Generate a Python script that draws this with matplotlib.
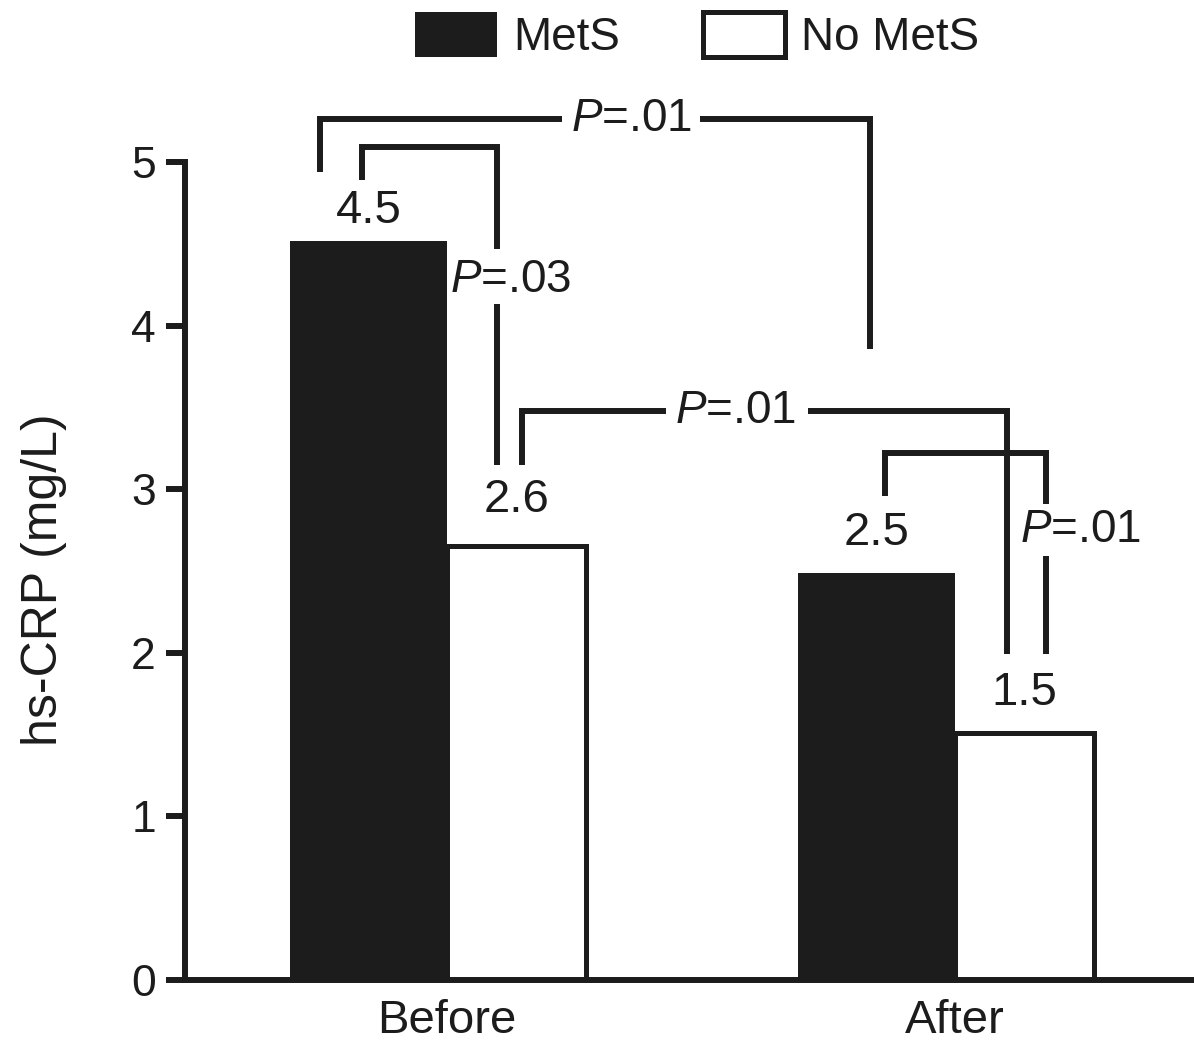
import matplotlib
matplotlib.use("Agg")
import matplotlib.pyplot as plt
import numpy as np

plt.rcParams['font.family'] = ['Liberation Sans', 'DejaVu Sans']
plt.rcParams['mathtext.fontset'] = 'custom'
plt.rcParams['mathtext.it'] = 'Liberation Sans:italic'
plt.rcParams['mathtext.rm'] = 'Liberation Sans'

# ---- data ----
groups = ["Before", "After"]
series_names = ["MetS", "No MetS"]
mets = [4.52, 2.49]
no_mets = [2.65, 1.51]
mets_labels = ["4.5", "2.5"]
no_mets_labels = ["2.6", "1.5"]
y_ticks = [0, 1, 2, 3, 4, 5]
p_texts = ["$P$=.01", "$P$=.03", "$P$=.01", "$P$=.01"]

INK = '#1b1c1b'
W, H = 1194, 1058
fig = plt.figure(figsize=(W / 100, H / 100), dpi=100)
ax = fig.add_axes([185 / W, (H - 980) / H, (W - 185) / W, (980 - 162) / H])

x = np.arange(len(groups))
w_m, w_n = 0.31, 0.273
b1 = ax.bar(x - w_m / 2, mets, w_m, color=INK, edgecolor=INK, linewidth=0, label=series_names[0])
b2 = ax.bar(x + w_n / 2, no_mets, w_n, facecolor='white', edgecolor=INK, linewidth=3.6,
            label=series_names[1])

ax.set_xlim(-0.516, 1.470)
ax.set_ylim(0, 5)
ax.set_yticks(y_ticks)
ax.set_xticks(x)
ax.set_xticklabels(groups, fontsize=34, color=INK)
ax.tick_params(axis='x', length=0, pad=14)
ax.tick_params(axis='y', length=14, width=4.3, color=INK, labelsize=32, labelcolor=INK, pad=7)
for s in ['top', 'right']:
    ax.spines[s].set_visible(False)
for s in ['left', 'bottom']:
    ax.spines[s].set_linewidth(4.3)
    ax.spines[s].set_color(INK)
ax.spines['bottom'].set_capstyle('projecting')

ax.set_ylabel("hs-CRP (mg/L)", fontsize=36, color=INK, va='center')
ax.yaxis.set_label_coords(-0.140, 0.489)

# value labels
m_off = [8, 18]
n_off = [24, 18]
for i in range(len(groups)):
    ax.annotate(mets_labels[i], (x[i] - w_m / 2, mets[i]), xytext=(0, m_off[i]),
                textcoords='offset pixels', ha='center', va='bottom', fontsize=34, color=INK)
    ax.annotate(no_mets_labels[i], (x[i] + w_n / 2, no_mets[i]), xytext=(0, n_off[i]),
                textcoords='offset pixels', ha='center', va='bottom', fontsize=34, color=INK)

# significance brackets
lk = dict(color=INK, lw=4.3, clip_on=False, solid_joinstyle='miter', solid_capstyle='butt')
# 1: Before MetS vs After MetS
ax.plot([-0.25, -0.25, 0.226], [4.94, 5.26, 5.26], **lk)
ax.plot([0.498, 0.833, 0.833], [5.26, 5.26, 3.86], **lk)
ax.text(0.362, 5.26, p_texts[0], ha='center', va='center', fontsize=33, color=INK)
# 2: Before MetS vs Before No MetS
ax.plot([-0.167, -0.167, 0.098, 0.098], [4.89, 5.09, 5.09, 4.47], **lk)
ax.plot([0.098, 0.098], [4.13, 3.15], **lk)
ax.text(0.124, 4.28, p_texts[1], ha='center', va='center', fontsize=33, color=INK)
# 3: Before No MetS vs After No MetS
ax.plot([0.148, 0.148, 0.43], [3.15, 3.48, 3.48], **lk)
ax.plot([0.71, 1.102, 1.102], [3.48, 3.48, 1.99], **lk)
ax.text(0.567, 3.48, p_texts[2], ha='center', va='center', fontsize=33, color=INK)
# 4: After MetS vs After No MetS
ax.plot([0.862, 0.862, 1.179, 1.179], [2.96, 3.22, 3.22, 2.91], **lk)
ax.plot([1.179, 1.179], [2.59, 1.99], **lk)
ax.text(1.246, 2.75, p_texts[3], ha='center', va='center', fontsize=33, color=INK)

leg = ax.legend(handles=[b1, b2], labels=series_names, loc='center',
                bbox_to_anchor=(697 / W, 1 - 36 / H), bbox_transform=fig.transFigure,
                ncol=2, frameon=False, fontsize=33, handlelength=1.8, handleheight=1.15,
                handletextpad=0.35, columnspacing=1.8, borderpad=0, borderaxespad=0)
for t in leg.get_texts():
    t.set_color(INK)

fig.savefig("out.png", dpi=100)
